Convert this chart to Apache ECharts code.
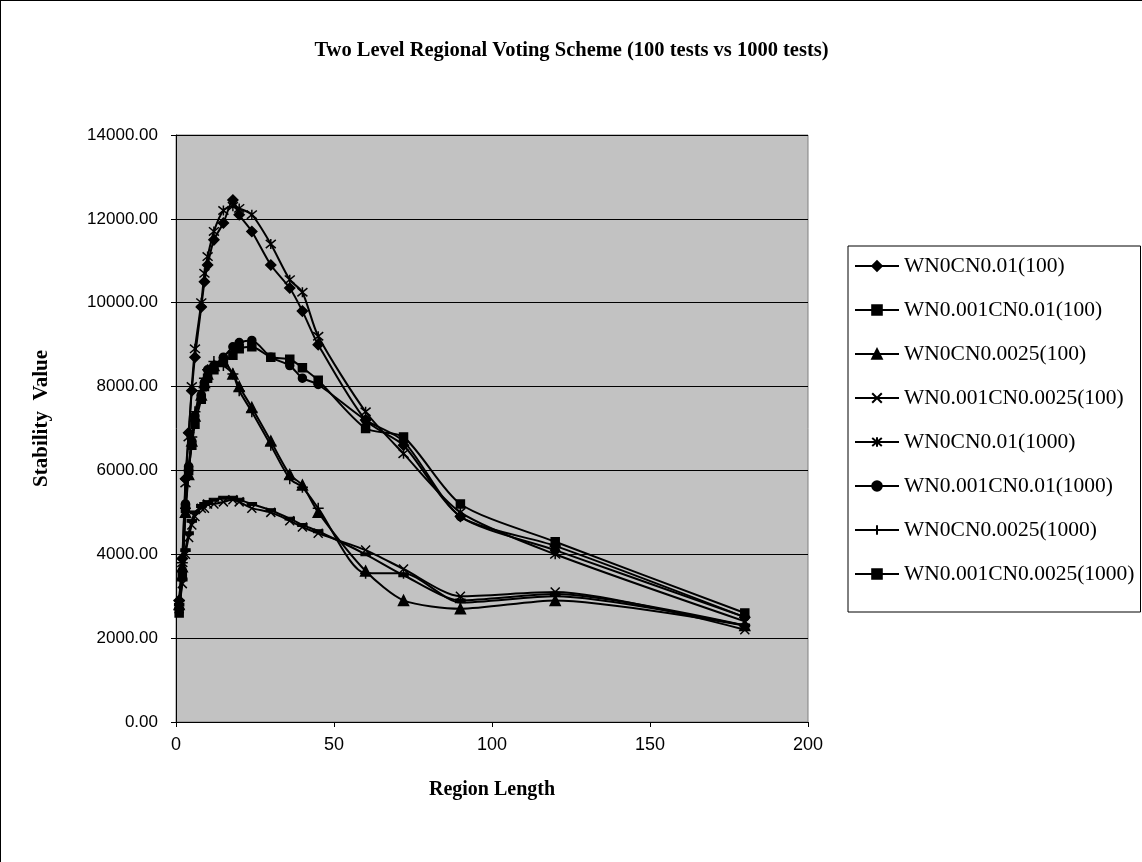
<!DOCTYPE html>
<html>
<head>
<meta charset="utf-8">
<script src="https://cdn.jsdelivr.net/npm/echarts@6/dist/echarts.min.js"></script>
<style>
html,body{margin:0;padding:0;background:#fff;}
#chart{width:1142px;height:862px;box-sizing:border-box;border-top:1px solid #000;border-left:1px solid #000;}
</style>
</head>
<body>
<div id="chart"></div>
<script>
const titleText = 'Two Level Regional Voting Scheme (100 tests vs 1000 tests)';
const xName = 'Region Length';
const yName = 'Stability  Value';
const regionLength = [1,2,3,4,5,6,8,9,10,12,15,18,20,24,30,36,40,45,60,72,90,120,180];
const seriesNames = ['WN0CN0.01(100)','WN0.001CN0.01(100)','WN0CN0.0025(100)','WN0.001CN0.0025(100)','WN0CN0.01(1000)','WN0.001CN0.01(1000)','WN0CN0.0025(1000)','WN0.001CN0.0025(1000)'];
const wn0cn001_100   = [2900,3900,5800,6900,7900,8700,9900,10500,10900,11500,11900,12450,12100,11700,10900,10350,9800,9000,7200,6600,4900,4200,2500];
const wn001cn001_100 = [2600,3500,5100,6000,6600,7100,7700,8000,8200,8400,8600,8750,8900,8950,8700,8650,8450,8150,7000,6800,5200,4300,2600];
const wn0cn0025_100  = [2800,3700,5000,5900,6700,7300,7800,8100,8300,8500,8600,8300,8000,7500,6700,5900,5650,5000,3600,2900,2700,2900,2300];
const wn001cn0025_100= [2700,3300,4000,4400,4700,4900,5100,5100,5200,5200,5250,5300,5250,5100,5000,4800,4650,4500,4100,3650,3000,3100,2200];
const wn0cn001_1000  = [2800,3800,5700,6800,8000,8900,10000,10700,11100,11700,12200,12300,12250,12100,11400,10550,10250,9200,7400,6400,5000,4000,2400];
const wn001cn001_1000= [2700,3600,5200,6100,6700,7300,7800,8100,8400,8500,8700,8950,9050,9100,8700,8500,8200,8050,7200,6700,4900,4100,2500];
const wn0cn0025_1000 = [2900,3800,5100,6000,6800,7400,7900,8200,8400,8600,8500,8300,7900,7400,6600,5800,5600,5100,3550,3550,2850,3000,2300];
const wn001cn0025_1000=[2800,3400,4100,4500,4800,5000,5150,5200,5250,5300,5350,5350,5300,5200,5050,4850,4700,4550,4000,3500,2900,3050,2300];
const seriesValues = [wn0cn001_100, wn001cn001_100, wn0cn0025_100, wn001cn0025_100, wn0cn001_1000, wn001cn001_1000, wn0cn0025_1000, wn001cn0025_1000];

const symbols = [
  {symbol:'diamond', size:10},
  {symbol:'rect', size:8},
  {symbol:'triangle', size:10},
  {symbol:'path://M0,0 L10,10 M10,0 L0,10', size:9},
  {symbol:'path://M0,0 L10,10 M10,0 L0,10 M5,-1 L5,11', size:10},
  {symbol:'circle', size:8},
  {symbol:'path://M5,0 L5,10 M0,5 L10,5', size:11},
  {symbol:'rect', size:[8,3]}
];

const serif = '"Liberation Serif", "DejaVu Serif", serif';
const sans = '"Liberation Sans", Arial, sans-serif';

const chart = echarts.init(document.getElementById('chart'));
chart.setOption({
  animation:false,
  backgroundColor:'#ffffff',
  title:{text:titleText,left:'center',top:34,textStyle:{fontFamily:serif,fontWeight:'bold',fontSize:20.5,color:'#000'}},
  legend:{
    orient:'vertical', left:847, top:245,
    backgroundColor:'#fff', borderColor:'#000', borderWidth:1,
    padding:[9,6,27,6], itemGap:22, itemWidth:44, itemHeight:12,
    textStyle:{fontFamily:serif,fontSize:21.5,color:'#000'},
    data:seriesNames
  },
  grid:{left:175,right:334,top:134,bottom:140,show:true,backgroundColor:'#c2c2c2',borderColor:'#808080',borderWidth:1},
  xAxis:{
    type:'value',min:0,max:200,interval:50,
    name:xName,nameLocation:'middle',nameGap:58,
    nameTextStyle:{fontFamily:serif,fontWeight:'bold',fontSize:20,color:'#000'},
    axisLine:{lineStyle:{color:'#000',width:1}},
    axisTick:{show:true,lineStyle:{color:'#000'}},
    axisLabel:{fontFamily:sans,fontSize:18,color:'#000',margin:14},
    splitLine:{show:false}
  },
  yAxis:{
    type:'value',min:0,max:14000,interval:2000,
    name:yName,nameLocation:'middle',nameGap:124,
    nameTextStyle:{fontFamily:serif,fontWeight:'bold',fontSize:21,color:'#000',padding:[0,0,0,20]},
    axisLine:{show:true,lineStyle:{color:'#000',width:1}},
    axisTick:{show:true,lineStyle:{color:'#000'}},
    axisLabel:{fontFamily:sans,fontSize:17,color:'#000',margin:18,formatter:v=>v.toFixed(2)},
    splitLine:{show:true,lineStyle:{color:'#000',width:1}}
  },
  series: seriesNames.map((name,i)=>({
    name:name,type:'line',smooth:0.25,
    data: regionLength.map((x,j)=>[x,seriesValues[i][j]]),
    symbol:symbols[i].symbol,symbolSize:symbols[i].size,showSymbol:true,
    lineStyle:{color:'#000',width:2},
    itemStyle:{color:'#000',borderColor:'#000',borderWidth:1.5}
  }))
});
</script>
</body>
</html>
